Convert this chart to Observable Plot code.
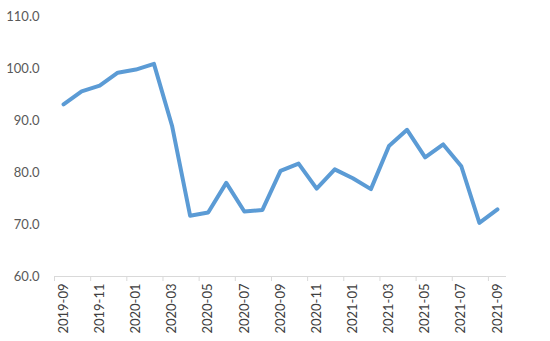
<!DOCTYPE html>
<html>
<head>
<meta charset="utf-8">
<script src="https://cdn.jsdelivr.net/npm/d3@7"></script>
<script src="https://cdn.jsdelivr.net/npm/@observablehq/plot@0.6"></script>
<style>
  html, body { margin: 0; padding: 0; background: #fff; }
</style>
</head>
<body>
<div id="chart"></div>
<script>
const months = ["2019-09","2019-10","2019-11","2019-12","2020-01","2020-02","2020-03","2020-04","2020-05","2020-06","2020-07","2020-08","2020-09","2020-10","2020-11","2020-12","2021-01","2021-02","2021-03","2021-04","2021-05","2021-06","2021-07","2021-08","2021-09"];
const values = [93.1,95.6,96.7,99.2,99.8,100.9,89.0,71.7,72.3,78.0,72.5,72.8,80.3,81.7,76.9,80.6,78.9,76.8,85.1,88.2,82.9,85.4,81.2,70.3,72.9];
const yTicks = [60,70,80,90,100,110];

const data = months.map((m, i) => ({m, i, v: values[i]}));
const boundaryTicks = months.map((m, i) => i).filter(i => i % 2 === 0);
const labelTicks = boundaryTicks.map(i => i + 0.5);

const chart = Plot.plot({
  width: 550,
  height: 341,
  marginLeft: 54,
  marginRight: 44,
  marginTop: 16,
  marginBottom: 65,
  style: {fontFamily: "Lato, 'Open Sans', sans-serif", fontSize: "13px", color: "#595959", background: "#fff"},
  x: {domain: [0, months.length]},
  y: {domain: [60, 110]},
  marks: [
    Plot.axisY({ticks: yTicks, tickSize: 0, tickPadding: 15, tickFormat: d => d.toFixed(1), label: null, fill: "#595959"}),
    Plot.ruleY([60], {stroke: "#d9d9d9", strokeWidth: 1}),
    Plot.axisX({ticks: boundaryTicks, tickSize: 5, tickFormat: () => "", stroke: "#d9d9d9", label: null}),
    Plot.axisX({ticks: labelTicks, tickSize: 0, tickPadding: 7, tickRotate: -90, tickFormat: d => months[Math.round(d - 0.5)], label: null, fill: "#404040"}),
    Plot.line(data, {x: d => d.i + 0.5, y: "v", stroke: "#5b9bd5", strokeWidth: 4, strokeLinejoin: "round"})
  ]
});
document.getElementById("chart").appendChild(chart);
</script>
</body>
</html>
